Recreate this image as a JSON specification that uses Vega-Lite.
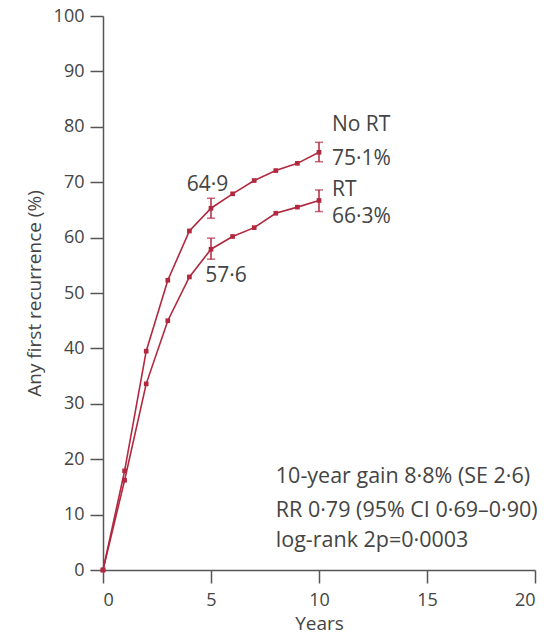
{
  "$schema": "https://vega.github.io/schema/vega-lite/v6.json",
  "width": 432,
  "height": 554,
  "autosize": {"type": "none"},
  "padding": {"left": 103, "top": 16, "right": 12, "bottom": 68},
  "background": "white",
  "config": {
    "view": {"stroke": null},
    "font": "Open Sans",
    "axis": {
      "grid": false,
      "domainColor": "#555",
      "tickColor": "#555",
      "labelColor": "#444",
      "titleColor": "#444",
      "labelFont": "Open Sans",
      "titleFont": "Open Sans",
      "labelFontSize": 18,
      "titleFontSize": 19,
      "titleFontWeight": "normal",
      "tickSize": 13,
      "domainWidth": 1.5,
      "tickWidth": 1.5
    }
  },
  "datasets": {
    "curves": [
      {"group": "No RT", "year": 0, "value": 0},
      {"group": "No RT", "year": 1, "value": 17.9},
      {"group": "No RT", "year": 2, "value": 39.5},
      {"group": "No RT", "year": 3, "value": 52.3},
      {"group": "No RT", "year": 4, "value": 61.2},
      {"group": "No RT", "year": 5, "value": 65.3},
      {"group": "No RT", "year": 6, "value": 67.9},
      {"group": "No RT", "year": 7, "value": 70.3},
      {"group": "No RT", "year": 8, "value": 72.1},
      {"group": "No RT", "year": 9, "value": 73.4},
      {"group": "No RT", "year": 10, "value": 75.4},
      {"group": "RT", "year": 0, "value": 0},
      {"group": "RT", "year": 1, "value": 16.2},
      {"group": "RT", "year": 2, "value": 33.6},
      {"group": "RT", "year": 3, "value": 45.0},
      {"group": "RT", "year": 4, "value": 52.9},
      {"group": "RT", "year": 5, "value": 57.9},
      {"group": "RT", "year": 6, "value": 60.2},
      {"group": "RT", "year": 7, "value": 61.8},
      {"group": "RT", "year": 8, "value": 64.4},
      {"group": "RT", "year": 9, "value": 65.5},
      {"group": "RT", "year": 10, "value": 66.7}
    ],
    "errors": [
      {"group": "No RT", "year": 5, "lo": 63.5, "hi": 67.1},
      {"group": "No RT", "year": 10, "lo": 73.7, "hi": 77.2},
      {"group": "RT", "year": 5, "lo": 56.1, "hi": 59.9},
      {"group": "RT", "year": 10, "lo": 64.7, "hi": 68.6}
    ],
    "centerLabels": [
      {"x": 4.84, "y": 69.55, "text": "64·9"},
      {"x": 5.69, "y": 53.0, "text": "57·6"}
    ],
    "leftLabels": [
      {"x": 10.6, "y": 80.4, "text": "No RT"},
      {"x": 10.6, "y": 74.1, "text": "75·1%"},
      {"x": 10.6, "y": 68.65, "text": "RT"},
      {"x": 10.6, "y": 63.7, "text": "66·3%"}
    ],
    "stats": [
      {"x": 8.0, "y": 16.75, "text": "10-year gain 8·8% (SE 2·6)"},
      {"x": 8.0, "y": 10.6, "text": "RR 0·79 (95% CI 0·69–0·90)"},
      {"x": 8.0, "y": 5.3, "text": "log-rank 2p=0·0003"}
    ]
  },
  "layer": [
    {
      "data": {"name": "curves"},
      "mark": {"type": "line", "color": "#b1283f", "strokeWidth": 1.6},
      "encoding": {
        "x": {"field": "year", "type": "quantitative", "scale": {"domain": [0, 20], "nice": false},
              "axis": {"values": [0, 5, 10, 15, 20], "title": "Years", "labelPadding": 8, "titlePadding": 5}},
        "y": {"field": "value", "type": "quantitative", "scale": {"domain": [0, 100], "nice": false},
              "axis": {"values": [0, 10, 20, 30, 40, 50, 60, 70, 80, 90, 100], "title": "Any first recurrence (%)", "labelPadding": 6, "titlePadding": 9}},
        "detail": {"field": "group"}
      }
    },
    {
      "data": {"name": "curves"},
      "mark": {"type": "point", "shape": "square", "filled": true, "size": 22, "color": "#b1283f", "opacity": 1},
      "encoding": {
        "x": {"field": "year", "type": "quantitative"},
        "y": {"field": "value", "type": "quantitative"}
      }
    },
    {
      "data": {"name": "errors"},
      "mark": {"type": "rule", "color": "#b1283f", "strokeWidth": 1.5},
      "encoding": {
        "x": {"field": "year", "type": "quantitative"},
        "y": {"field": "lo", "type": "quantitative"},
        "y2": {"field": "hi"}
      }
    },
    {
      "data": {"name": "errors"},
      "mark": {"type": "tick", "color": "#b1283f", "orient": "horizontal", "size": 8, "thickness": 1.5},
      "encoding": {
        "x": {"field": "year", "type": "quantitative"},
        "y": {"field": "lo", "type": "quantitative"}
      }
    },
    {
      "data": {"name": "errors"},
      "mark": {"type": "tick", "color": "#b1283f", "orient": "horizontal", "size": 8, "thickness": 1.5},
      "encoding": {
        "x": {"field": "year", "type": "quantitative"},
        "y": {"field": "hi", "type": "quantitative"}
      }
    },
    {
      "data": {"name": "centerLabels"},
      "mark": {"type": "text", "fontSize": 21, "color": "#444", "baseline": "middle", "align": "center", "font": "Open Sans"},
      "encoding": {
        "x": {"field": "x", "type": "quantitative"},
        "y": {"field": "y", "type": "quantitative"},
        "text": {"field": "text"}
      }
    },
    {
      "data": {"name": "leftLabels"},
      "mark": {"type": "text", "fontSize": 21, "color": "#444", "baseline": "middle", "align": "left", "font": "Open Sans"},
      "encoding": {
        "x": {"field": "x", "type": "quantitative"},
        "y": {"field": "y", "type": "quantitative"},
        "text": {"field": "text"}
      }
    },
    {
      "data": {"name": "stats"},
      "mark": {"type": "text", "fontSize": 21.5, "color": "#444", "baseline": "middle", "align": "left", "font": "Open Sans"},
      "encoding": {
        "x": {"field": "x", "type": "quantitative"},
        "y": {"field": "y", "type": "quantitative"},
        "text": {"field": "text"}
      }
    }
  ]
}
